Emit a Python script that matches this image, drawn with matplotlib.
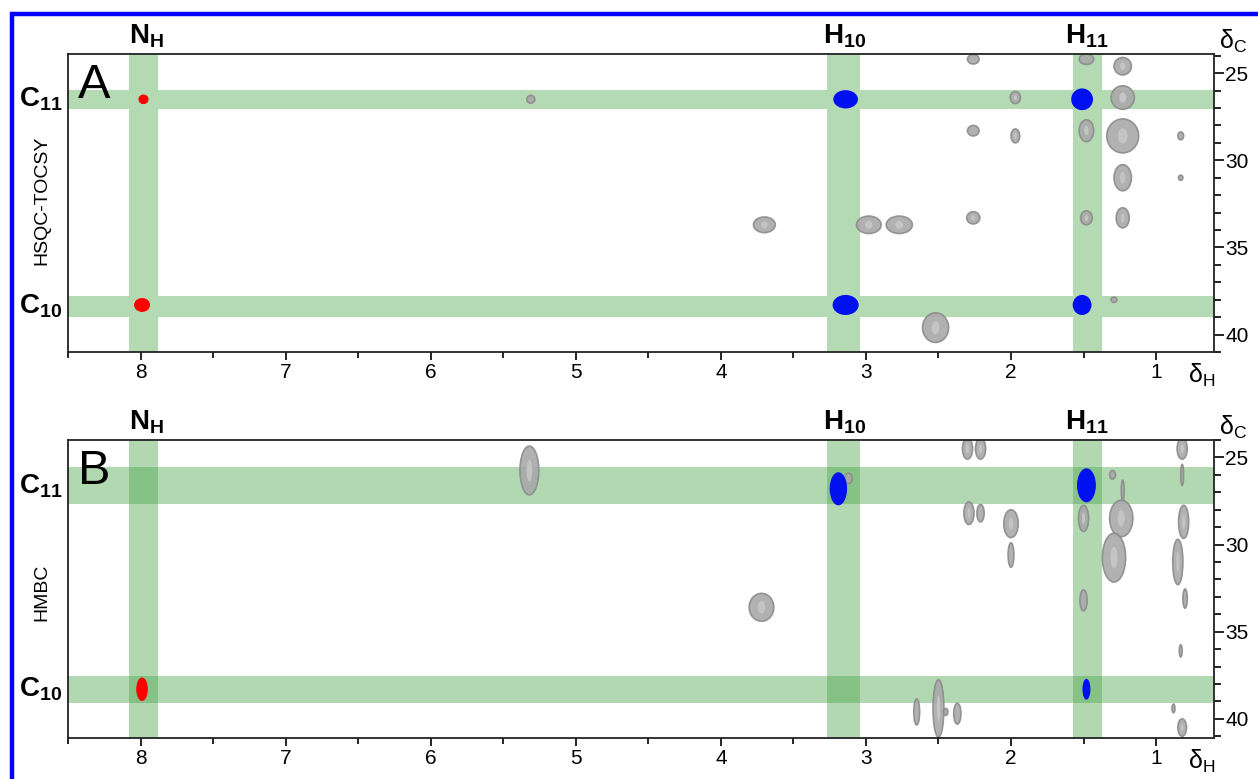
import matplotlib
matplotlib.use('Agg')
import matplotlib.pyplot as plt
import matplotlib.transforms as mtransforms
from matplotlib.patches import Ellipse, Rectangle
from matplotlib.ticker import MultipleLocator

plt.rcParams['font.family'] = ['Liberation Sans', 'DejaVu Sans']
plt.rcParams['mathtext.fontset'] = 'custom'
plt.rcParams['mathtext.rm'] = 'Liberation Sans'
plt.rcParams['mathtext.bf'] = 'Liberation Sans:bold'
plt.rcParams['mathtext.it'] = 'Liberation Sans:italic'

# axis ranges (ppm)
H_LIM = (8.5, 0.6)
C_LIM_A = (41.0, 23.9)
C_LIM_B = (41.1, 24.0)

# highlighted columns (1H) and rows (13C)
COL_LABELS = ['N$_\\mathbf{H}$', 'H$_\\mathbf{10}$', 'H$_\\mathbf{11}$']
COL_TEXT_X = [7.96, 3.15, 1.48]
COL_BANDS = [(7.88, 8.08), (3.04, 3.27), (1.37, 1.57)]
ROW_LABELS = ['C$_\\mathbf{11}$', 'C$_\\mathbf{10}$']
A_ROW_BANDS = [(25.98, 27.07), (37.76, 38.97)]
B_ROW_BANDS = [(25.57, 27.70), (37.53, 39.08)]

# peaks: (dH, dC, width ppm, height ppm)
A_RED = [(7.98, 26.5, 0.07, 0.55), (7.99, 38.3, 0.11, 0.8)]
A_BLUE = [(3.14, 26.5, 0.17, 1.05), (1.51, 26.5, 0.15, 1.25),
          (3.14, 38.3, 0.18, 1.15), (1.51, 38.3, 0.13, 1.15)]
A_GREY = [(5.31, 26.5, 0.055, 0.45), (3.70, 33.7, 0.15, 0.9),
          (2.98, 33.7, 0.17, 1.0), (2.77, 33.7, 0.18, 1.0),
          (2.26, 24.2, 0.08, 0.55), (2.26, 28.3, 0.08, 0.6),
          (2.26, 33.3, 0.09, 0.7), (1.97, 26.4, 0.07, 0.7),
          (1.97, 28.6, 0.06, 0.8), (1.48, 24.2, 0.10, 0.6),
          (1.48, 28.3, 0.10, 1.25), (1.48, 33.3, 0.08, 0.8),
          (1.23, 24.6, 0.12, 1.0), (1.23, 26.4, 0.16, 1.35),
          (1.23, 28.6, 0.22, 1.95), (1.23, 31.0, 0.12, 1.5),
          (1.23, 33.3, 0.09, 1.15), (1.29, 38.0, 0.04, 0.3),
          (0.83, 28.6, 0.04, 0.45), (0.83, 31.0, 0.03, 0.3),
          (2.52, 39.6, 0.18, 1.7)]

B_RED = [(7.99, 38.3, 0.08, 1.35)]
B_BLUE = [(3.19, 26.8, 0.12, 1.9), (1.48, 26.6, 0.13, 1.95),
          (1.48, 38.3, 0.055, 1.2)]
B_GREY = [(5.32, 25.75, 0.13, 2.8), (3.72, 33.6, 0.17, 1.6),
          (3.12, 26.2, 0.05, 0.6),
          (2.30, 24.5, 0.07, 1.2), (2.21, 24.5, 0.07, 1.2),
          (2.29, 28.2, 0.07, 1.3), (2.21, 28.2, 0.05, 1.0),
          (2.00, 28.8, 0.10, 1.6), (2.00, 30.6, 0.04, 1.4),
          (1.50, 28.5, 0.07, 1.5), (1.50, 33.2, 0.05, 1.2),
          (1.30, 26.0, 0.04, 0.5), (1.23, 26.9, 0.02, 1.2),
          (1.24, 28.5, 0.16, 2.1), (1.29, 30.75, 0.16, 2.8),
          (0.82, 24.5, 0.07, 1.2), (0.82, 26.0, 0.02, 1.2),
          (0.81, 28.7, 0.07, 1.9), (0.85, 31.0, 0.07, 2.6),
          (0.80, 33.1, 0.03, 1.1), (0.83, 36.1, 0.02, 0.7),
          (0.88, 39.4, 0.02, 0.5), (0.82, 40.5, 0.06, 1.0),
          (2.50, 39.4, 0.075, 3.3), (2.65, 39.6, 0.04, 1.5),
          (2.37, 39.7, 0.05, 1.2), (2.45, 39.6, 0.03, 0.4)]

BAND_SOLID = '#b3dab3'
BAND_GREEN = (0.3, 0.65, 0.3)
GREY_FACE = '#a9a9a9'
GREY_EDGE = '#8c8c8c'


def draw_panel(ax, clim, row_bands, red, blue, grey, letter, side_label, side_y, solid):
    ax.set_xlim(*H_LIM)
    ax.set_ylim(*clim)

    # bands
    for lo, hi in COL_BANDS:
        if solid:
            ax.axvspan(lo, hi, color=BAND_SOLID, lw=0, zorder=1)
        else:
            ax.axvspan(lo, hi, color=BAND_GREEN, alpha=0.43, lw=0, zorder=1)
    for lo, hi in row_bands:
        if solid:
            ax.axhspan(lo, hi, color=BAND_SOLID, lw=0, zorder=1)
        else:
            ax.axhspan(lo, hi, color=BAND_GREEN, alpha=0.43, lw=0, zorder=1)

    # grey contours
    for x, y, w, h in grey:
        ax.add_patch(Ellipse((x, y), w, h, facecolor=GREY_FACE, edgecolor=GREY_EDGE,
                             lw=1.2, alpha=0.9, zorder=2))
        if w > 0.05 and h > 0.6:
            ax.add_patch(Ellipse((x, y), w * 0.3, h * 0.45, facecolor='#c4c4c4',
                                 edgecolor='none', zorder=2))
    for x, y, w, h in red:
        ax.add_patch(Ellipse((x, y), w, h, facecolor='#ff0000', edgecolor='none', zorder=3))
    for x, y, w, h in blue:
        ax.add_patch(Ellipse((x, y), w, h, facecolor='#0010f0', edgecolor='none', zorder=3))

    # axes styling
    for sp in ax.spines.values():
        sp.set_linewidth(1.3)
        sp.set_color('#222222')
    ax.xaxis.set_major_locator(MultipleLocator(1))
    ax.xaxis.set_minor_locator(MultipleLocator(0.5))
    ax.yaxis.set_major_locator(MultipleLocator(5))
    ax.yaxis.set_minor_locator(MultipleLocator(1))
    ax.yaxis.tick_right()
    ax.tick_params(axis='x', which='both', direction='out', labelsize=15, pad=2, width=1.2)
    ax.tick_params(axis='x', which='major', length=6)
    ax.tick_params(axis='x', which='minor', length=4)
    ax.tick_params(axis='y', which='both', direction='out', labelsize=15, pad=1, width=1.2,
                   left=False, right=True, labelleft=False, labelright=True)
    ax.tick_params(axis='y', which='major', length=7)
    ax.tick_params(axis='y', which='minor', length=5)
    ax.set_xticks([8, 7, 6, 5, 4, 3, 2, 1])
    ax.set_xticklabels(['8', '7', '6', '5', '4', '3', '2', '1'])

    # labels
    tx = mtransforms.blended_transform_factory(ax.transData, ax.transAxes)
    for lab, x in zip(COL_LABELS, COL_TEXT_X):
        ax.text(x, 1.012, lab, transform=tx, ha='center', va='bottom',
                fontsize=20, fontweight='bold')
    ty = mtransforms.blended_transform_factory(ax.transAxes, ax.transData)
    for lab, (lo, hi) in zip(ROW_LABELS, row_bands):
        ax.text(-0.005, (lo + hi) / 2, lab, transform=ty, ha='right', va='center',
                fontsize=20, fontweight='bold')
    ax.text(0.0227, 0.895, letter, transform=ax.transAxes, ha='center', va='center',
            fontsize=35)
    ax.text(-0.023, side_y, side_label, transform=ax.transAxes, rotation=90,
            ha='center', va='center', fontsize=14)
    ax.text(1.0166, 0.997, 'δ$_\\mathrm{C}$', transform=ax.transAxes, ha='center',
            va='bottom', fontsize=18)
    ax.text(0.9887, -0.034, 'δ$_\\mathrm{H}$', transform=ax.transAxes, ha='center',
            va='top', fontsize=18)


fig = plt.figure(figsize=(12.58, 7.79), dpi=100)
ax_a = fig.add_axes([0.0541, 0.5481, 0.911, 0.3826])
ax_b = fig.add_axes([0.0541, 0.0526, 0.911, 0.3826])

draw_panel(ax_a, C_LIM_A, A_ROW_BANDS, A_RED, A_BLUE, A_GREY, 'A', 'HSQC-TOCSY', 0.51, True)
draw_panel(ax_b, C_LIM_B, B_ROW_BANDS, B_RED, B_BLUE, B_GREY, 'B', 'HMBC', 0.49, False)

# blue frame (top and left edges visible)
fig.patches.append(Rectangle((11.5 / 1258, -0.1), 1.2, 1.1 - 14 / 779,
                             transform=fig.transFigure, fill=False,
                             edgecolor='#0000ff', lw=3.2, zorder=10))

fig.savefig('out.png', dpi=100)
